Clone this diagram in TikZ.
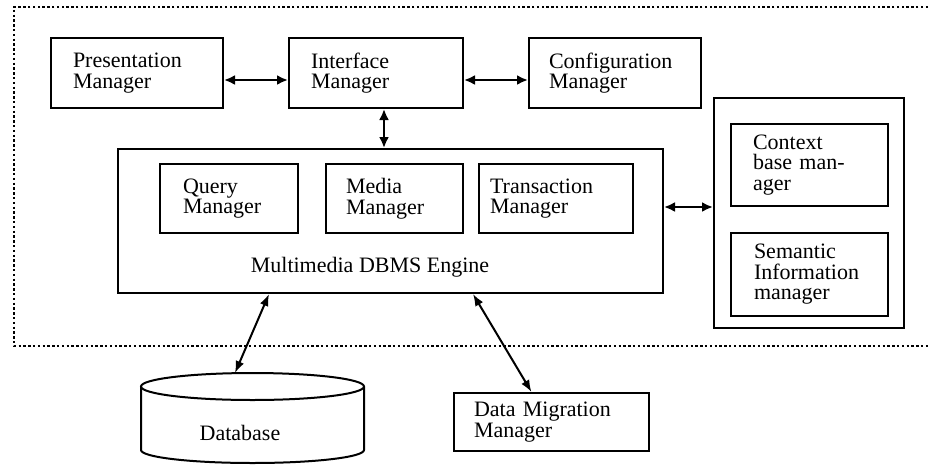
\documentclass[tikz,border=0pt]{standalone}
\usepackage{fontspec}
\setmainfont{Liberation Serif}
\usetikzlibrary{arrows.meta}
\newcommand\mgrfont{\fontsize{22}{20.5}\selectfont}
\tikzset{
  mgr/.style={draw, line width=2pt, align=left, inner ysep=0pt,
    anchor=north west, font=\mgrfont},
  frame/.style={draw, line width=2pt, anchor=north west, inner sep=0pt},
  link/.style={line width=2.6pt, {Latex[length=11pt,width=10pt]}-{Latex[length=11pt,width=10pt]}},
  thinlink/.style={line width=2pt, {Latex[length=12pt,width=9pt]}-{Latex[length=12pt,width=9pt]}},
  border/.style={line width=2.6pt, dash pattern=on 2.4pt off 2.4pt}
}
\begin{document}
\begin{tikzpicture}[x=1pt,y=-1pt]
\useasboundingbox (0,0) rectangle (930,467);

% dotted boundary of the system
\draw[border] (928,7) -- (14,7) -- (14,346) -- (930,346);

% top row of managers
\node[mgr, minimum width=172pt, minimum height=70pt, text width=128pt, inner xsep=22pt]
  (pres) at (50,37) {Presentation\\Manager};
\node[mgr, minimum width=174pt, minimum height=70pt, text width=130pt, inner xsep=22pt]
  (ifc) at (288,37) {Interface\\Manager};
\node[mgr, minimum width=172pt, minimum height=70pt, text width=132pt, inner xsep=20pt]
  (cfg) at (528,37) {Configuration\\Manager};

% DBMS engine and its components
\node[frame, minimum width=545pt, minimum height=144pt] (eng) at (117,148) {};
\node[mgr, minimum width=138pt, minimum height=69pt, text width=92pt, inner xsep=23pt]
  (qry) at (159,163) {Query\\Manager};
\node[mgr, minimum width=137pt, minimum height=69pt, text width=97pt, inner xsep=20pt]
  (med) at (325,163) {Media\\Manager};
\node[mgr, minimum width=154pt, minimum height=69pt, text width=132pt, inner xsep=11pt]
  (trn) at (478,163) {Transaction\\Manager};
\node[font=\mgrfont, inner sep=0pt] (engl) at (370,267) {Multimedia DBMS Engine};

% context and semantic managers
\node[frame, minimum width=190pt, minimum height=230pt] (side) at (713,97) {};
\node[mgr, minimum width=157pt, minimum height=82pt, text width=113pt, inner xsep=22pt]
  (ctx) at (730,123) {Context\\base man-\\ager};
\node[mgr, minimum width=157pt, minimum height=83pt, text width=111pt, inner xsep=23pt]
  (sem) at (730,232) {Semantic\\Information\\manager};

% outside the boundary
\node[mgr, minimum width=195pt, minimum height=58pt, text width=155pt, inner xsep=20pt]
  (dmm) at (453,392) {Data Migration\\Manager};

% database cylinder
\filldraw[fill=white, line width=2pt]
  (141,386.5) -- (141,450) arc[start angle=180, end angle=360, x radius=111.5pt, y radius=13pt]
  -- (364,386.5);
\draw[line width=2pt] (252.5,386.5) ellipse [x radius=111.5pt, y radius=13.5pt];
\node[font=\mgrfont, inner sep=0pt] (db) at (240,433) {Database};
\coordinate (dbtop) at (235,373);

% connectors
\draw[link] ([yshift=-7pt]pres.east) -- ([yshift=-7pt]ifc.west);
\draw[link] ([yshift=-7pt]ifc.east) -- ([yshift=-7pt]cfg.west);
\coordinate (ia) at ([xshift=8pt]ifc.south);
\draw[link] (ia) -- (ia |- eng.north);
\draw[link] (eng.east |- ctx.south) -- (side.west |- ctx.south);
\draw[thinlink] ([xshift=152pt]eng.south west) -- (dbtop);
\draw[thinlink] ([xshift=356pt]eng.south west) -- ([xshift=-20pt]dmm.north);
\end{tikzpicture}
\end{document}
